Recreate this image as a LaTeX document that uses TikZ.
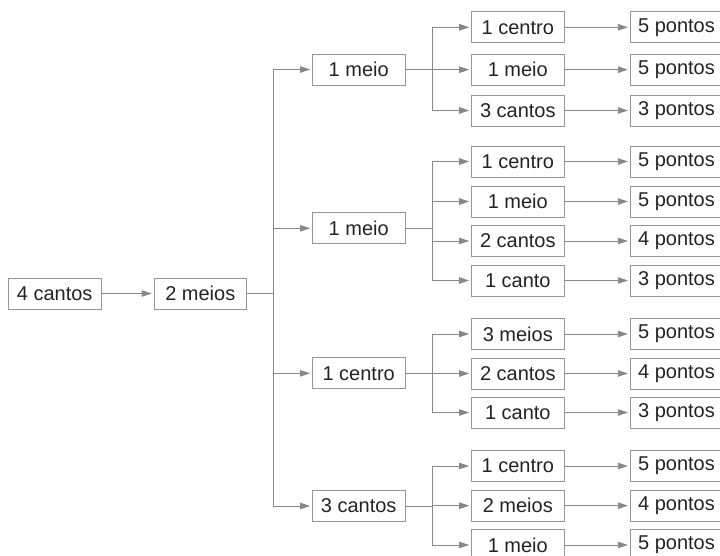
\documentclass[tikz,border=0pt]{standalone}
\usepackage{fontspec}
\setmainfont{Liberation Sans}
\usetikzlibrary{arrows.meta}
\definecolor{linec}{RGB}{135,135,135}
\definecolor{boxc}{RGB}{150,150,150}
\definecolor{txtc}{RGB}{35,35,35}
\begin{document}
\begin{tikzpicture}[x=1pt,y=1pt,
  box/.style={draw=boxc, line width=0.8pt, minimum width=92.5pt, minimum height=31pt,
    inner sep=0pt, text=txtc, font=\fontsize{20}{22}\selectfont},
  conn/.style={draw=linec, line width=0.8pt, -{Triangle[length=10pt,width=6.5pt]}, shorten >=2pt}]
\useasboundingbox (0,0) rectangle (720,555);
\clip (0,0) rectangle (720,555);
% level 0
\node[box] (a) at (54.7,{555-293.5}) {4 cantos};
\node[box] (b) at (200.3,{555-293.5}) {2 meios};
% level 1
\node[box] (c1) at (358.7,{555-69.5}) {1 meio};
\node[box] (c2) at (358.7,{555-228.3}) {1 meio};
\node[box] (c3) at (358.7,{555-373.3}) {1 centro};
\node[box] (c4) at (358.7,{555-506}) {3 cantos};
% level 2
\node[box] (d11) at (517.8,{555-27.3}) {1 centro};
\node[box] (d12) at (517.8,{555-69.7}) {1 meio};
\node[box] (d13) at (517.8,{555-110.5}) {3 cantos};
\node[box] (d21) at (517.8,{555-161.5}) {1 centro};
\node[box] (d22) at (517.8,{555-201.5}) {1 meio};
\node[box] (d23) at (517.8,{555-241}) {2 cantos};
\node[box] (d24) at (517.8,{555-280.5}) {1 canto};
\node[box] (d31) at (517.8,{555-334}) {3 meios};
\node[box] (d32) at (517.8,{555-373.5}) {2 cantos};
\node[box] (d33) at (517.8,{555-412.5}) {1 canto};
\node[box] (d41) at (517.8,{555-466}) {1 centro};
\node[box] (d42) at (517.8,{555-505.7}) {2 meios};
\node[box] (d43) at (517.8,{555-545}) {1 meio};
% level 3
\node[box] (e11) at (676.5,{555-27.3}) {5 pontos};
\node[box] (e12) at (676.5,{555-69.7}) {5 pontos};
\node[box] (e13) at (676.5,{555-110.5}) {3 pontos};
\node[box] (e21) at (676.5,{555-161.5}) {5 pontos};
\node[box] (e22) at (676.5,{555-201.5}) {5 pontos};
\node[box] (e23) at (676.5,{555-241}) {4 pontos};
\node[box] (e24) at (676.5,{555-280.5}) {3 pontos};
\node[box] (e31) at (676.5,{555-334}) {5 pontos};
\node[box] (e32) at (676.5,{555-373.5}) {4 pontos};
\node[box] (e33) at (676.5,{555-412.5}) {3 pontos};
\node[box] (e41) at (676.5,{555-466}) {5 pontos};
\node[box] (e42) at (676.5,{555-505.7}) {4 pontos};
\node[box] (e43) at (676.5,{555-545}) {5 pontos};
% connectors
\draw[conn] (a) -- (b);
\foreach \c in {c1,c2,c3,c4}
  \draw[conn] (b.east) -- ++(26.5,0) |- (\c.west);
\foreach \d in {d11,d12,d13}
  \draw[conn] (c1.east) -- ++(27,0) |- (\d.west);
\foreach \d in {d21,d22,d23,d24}
  \draw[conn] (c2.east) -- ++(27,0) |- (\d.west);
\foreach \d in {d31,d32,d33}
  \draw[conn] (c3.east) -- ++(27,0) |- (\d.west);
\foreach \d in {d41,d42,d43}
  \draw[conn] (c4.east) -- ++(27,0) |- (\d.west);
\foreach \i in {11,12,13,21,22,23,24,31,32,33,41,42,43}
  \draw[conn] (d\i) -- (e\i);
\end{tikzpicture}
\end{document}
